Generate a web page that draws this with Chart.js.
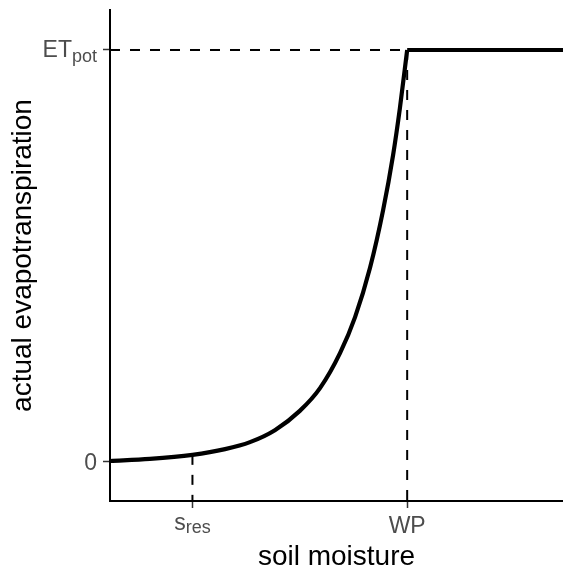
<!DOCTYPE html>
<html>
<head>
<meta charset="utf-8">
<script src="https://cdn.jsdelivr.net/npm/chart.js@4/dist/chart.umd.min.js"></script>
<style>
  html, body { margin: 0; padding: 0; background: #fff; }
  #wrap { width: 563px; height: 572px; }
</style>
</head>
<body>
<div id="wrap"><canvas id="c" width="563" height="572"></canvas></div>
<script>
// ---- data ----
const moisture = [0, 8.8, 18.2, 25.4, 30.9, 36.4, 41.9, 46.4, 50.8, 54.1, 57.4, 60.3, 62.5, 64.0, 65.6];
const actualET = [0, 0.005, 0.015, 0.029, 0.046, 0.075, 0.122, 0.178, 0.263, 0.350, 0.470, 0.611, 0.745, 0.859, 1];
const plateauX = [65.6, 100];
const plateauY = [1, 1];
const sRes = 18.2;
const wiltingPoint = 65.6;
const etPot = 1;
const xTickValues = [sRes, wiltingPoint];
const xTickMain = ['s', 'WP'];
const xTickSub = ['res', ''];
const yTickValues = [0, etPot];
const yTickMain = ['0', 'ET'];
const yTickSub = ['', 'pot'];
const xTitle = 'soil moisture';
const yTitle = 'actual evapotranspiration';
const xRange = [0, 100];
const yRange = [-0.0973, 1.0973];

const FONT = "'Liberation Sans', Arial, sans-serif";
const toPts = (xs, ys) => xs.map((x, i) => ({x: x, y: ys[i]}));
const sResET = actualET[moisture.indexOf(sRes)];

const tickLabelPlugin = {
  id: 'tickLabels',
  afterDraw(chart) {
    const ctx = chart.ctx;
    const xs = chart.scales.x, ys = chart.scales.y;
    ctx.save();
    ctx.fillStyle = '#4d4d4d';
    ctx.textBaseline = 'alphabetic';
    function rich(main, sub, x, baseMain, baseSub, align) {
      ctx.font = '23px ' + FONT;
      const wm = ctx.measureText(main).width;
      ctx.font = '18px ' + FONT;
      const ws = sub ? ctx.measureText(sub).width : 0;
      const total = wm + ws;
      let x0 = align === 'right' ? x - total : x - total / 2;
      ctx.textAlign = 'left';
      ctx.font = '23px ' + FONT;
      ctx.fillText(main, x0, baseMain);
      if (sub) {
        ctx.font = '18px ' + FONT;
        ctx.fillText(sub, x0 + wm, baseSub);
      }
    }
    yTickValues.forEach((v, i) => {
      const py = ys.getPixelForValue(v);
      if (yTickSub[i]) rich(yTickMain[i], yTickSub[i], 97, py + 7, py + 12, 'right');
      else rich(yTickMain[i], '', 97, py + 9, py + 9, 'right');
    });
    const by = chart.chartArea.bottom;
    xTickValues.forEach((v, i) => {
      const px = xs.getPixelForValue(v);
      if (xTickSub[i]) rich(xTickMain[i], xTickSub[i], px, by + 29, by + 32, 'center');
      else rich(xTickMain[i], '', px, by + 32, by + 32, 'center');
    });
    ctx.restore();
  }
};

new Chart(document.getElementById('c'), {
  type: 'line',
  data: {
    datasets: [
      { label: 'actual ET', data: toPts(moisture, actualET), borderColor: '#000', borderWidth: 4.2,
        pointRadius: 0, cubicInterpolationMode: 'monotone', fill: false, order: 0, borderCapStyle: 'butt' },
      { label: 'ET pot', data: toPts(plateauX, plateauY), borderColor: '#000', borderWidth: 4.2,
        pointRadius: 0, tension: 0, fill: false, order: 0 },
      { label: 'ETpot guide', data: [{x: xRange[0], y: etPot}, {x: wiltingPoint, y: etPot}], borderColor: '#000',
        borderWidth: 2, borderDash: [10, 10], pointRadius: 0, tension: 0, order: 2 },
      { label: 'WP guide', data: [{x: wiltingPoint, y: etPot}, {x: wiltingPoint, y: yRange[0]}], borderColor: '#000',
        borderWidth: 2, borderDash: [10, 10], pointRadius: 0, tension: 0, order: 2 },
      { label: 'sres guide', data: [{x: sRes, y: sResET}, {x: sRes, y: yRange[0]}], borderColor: '#000',
        borderWidth: 2, borderDash: [10, 10], pointRadius: 0, tension: 0, order: 2 }
    ]
  },
  options: {
    responsive: false,
    animation: false,
    devicePixelRatio: 1,
    layout: { padding: { top: 10, left: 0, right: 0, bottom: 0 } },
    plugins: { legend: { display: false }, tooltip: { enabled: false } },
    scales: {
      x: {
        type: 'linear', min: xRange[0], max: xRange[1],
        afterBuildTicks: s => { s.ticks = xTickValues.map(v => ({value: v})); },
        afterFit: s => { s.height = 71; },
        ticks: { display: false },
        grid: { display: true, drawOnChartArea: false, drawTicks: true, tickLength: 7, tickColor: '#333', tickWidth: 1.5 },
        border: { display: true, color: '#000', width: 2 },
        title: { display: true, text: xTitle, color: '#000', font: { family: FONT, size: 28, lineHeight: 1 }, padding: { top: 0, bottom: 1 } }
      },
      y: {
        type: 'linear', min: yRange[0], max: yRange[1],
        afterBuildTicks: s => { s.ticks = yTickValues.map(v => ({value: v})); },
        afterFit: s => { s.width = 110; },
        ticks: { display: false },
        grid: { display: true, drawOnChartArea: false, drawTicks: true, tickLength: 7, tickColor: '#333', tickWidth: 1.5 },
        border: { display: true, color: '#000', width: 2 },
        title: { display: true, text: yTitle, color: '#000', font: { family: FONT, size: 28, lineHeight: 1 }, padding: { top: 9, bottom: 0 } }
      }
    }
  },
  plugins: [tickLabelPlugin]
});
</script>
</body>
</html>
